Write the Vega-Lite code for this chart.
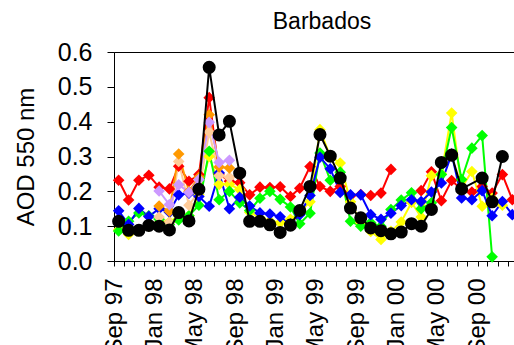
{
"$schema":"https://vega.github.io/schema/vega-lite/v6.json",
"autosize":{"type":"none"},
"padding":{"left":114,"top":52,"right":0,"bottom":84},
"width":400,"height":209,
"background":"white",
"config":{"font":"Liberation Sans","view":{"stroke":"black","strokeWidth":1},"axis":{"grid":false,"domainColor":"black","tickColor":"black","labelColor":"black","titleColor":"black","labelFont":"Liberation Sans","titleFont":"Liberation Sans"}},
"title":{"text":"Barbados","fontSize":23,"font":"Liberation Sans","fontWeight":"normal","color":"black","anchor":"middle","dx":8,"dy":32,"offset":20,"baseline":"alphabetic"},
"data":{"values":[
{"s":"red","g":1,"d":"1997-09-15","v":0.232},{"s":"red","g":1,"d":"1997-10-15","v":0.175},{"s":"red","g":1,"d":"1997-11-15","v":0.232},{"s":"red","g":1,"d":"1997-12-15","v":0.246},{"s":"red","g":1,"d":"1998-01-15","v":0.212},{"s":"red","g":1,"d":"1998-02-15","v":0.207},{"s":"red","g":1,"d":"1998-03-15","v":0.272},{"s":"red","g":1,"d":"1998-04-15","v":0.229},{"s":"red","g":1,"d":"1998-05-15","v":0.248},{"s":"red","g":1,"d":"1998-06-15","v":0.469},{"s":"red","g":1,"d":"1998-07-15","v":0.25},{"s":"red","g":1,"d":"1998-08-15","v":0.229},{"s":"red","g":1,"d":"1998-09-15","v":0.225},{"s":"red","g":1,"d":"1998-10-15","v":0.19},{"s":"red","g":1,"d":"1998-11-15","v":0.212},{"s":"red","g":1,"d":"1998-12-15","v":0.211},{"s":"red","g":1,"d":"1999-01-15","v":0.213},{"s":"red","g":1,"d":"1999-02-15","v":0.185},{"s":"red","g":1,"d":"1999-03-15","v":0.209},{"s":"red","g":1,"d":"1999-04-15","v":0.271},{"s":"red","g":1,"d":"1999-05-15","v":0.214},{"s":"red","g":1,"d":"1999-06-15","v":0.2},{"s":"red","g":1,"d":"1999-07-15","v":0.214},{"s":"red","g":1,"d":"1999-08-15","v":0.187},{"s":"red","g":1,"d":"1999-09-15","v":0.191},{"s":"red","g":1,"d":"1999-10-15","v":0.188},{"s":"red","g":1,"d":"1999-11-15","v":0.195},{"s":"red","g":1,"d":"1999-12-15","v":0.263},
{"s":"red","g":2,"d":"2000-03-15","v":0.202},{"s":"red","g":2,"d":"2000-04-15","v":0.256},{"s":"red","g":2,"d":"2000-05-15","v":0.173},{"s":"red","g":2,"d":"2000-06-15","v":0.231},{"s":"red","g":2,"d":"2000-07-15","v":0.205},{"s":"red","g":2,"d":"2000-08-15","v":0.198},{"s":"red","g":2,"d":"2000-09-15","v":0.214},{"s":"red","g":2,"d":"2000-10-15","v":0.195},{"s":"red","g":2,"d":"2000-11-15","v":0.248},{"s":"red","g":2,"d":"2000-12-15","v":0.176},
{"s":"yellow","d":"1997-09-15","v":0.09},{"s":"yellow","d":"1997-10-15","v":0.076},{"s":"yellow","d":"1997-11-15","v":0.088},{"s":"yellow","d":"1997-12-15","v":0.1},{"s":"yellow","d":"1998-01-15","v":0.11},{"s":"yellow","d":"1998-02-15","v":0.112},{"s":"yellow","d":"1998-03-15","v":0.13},{"s":"yellow","d":"1998-04-15","v":0.13},{"s":"yellow","d":"1998-05-15","v":0.19},{"s":"yellow","d":"1998-06-15","v":0.3},{"s":"yellow","d":"1998-07-15","v":0.22},{"s":"yellow","d":"1998-08-15","v":0.22},{"s":"yellow","d":"1998-09-15","v":0.205},{"s":"yellow","d":"1998-10-15","v":0.14},{"s":"yellow","d":"1998-11-15","v":0.124},{"s":"yellow","d":"1998-12-15","v":0.115},{"s":"yellow","d":"1999-01-15","v":0.11},{"s":"yellow","d":"1999-02-15","v":0.12},{"s":"yellow","d":"1999-03-15","v":0.14},{"s":"yellow","d":"1999-04-15","v":0.17},{"s":"yellow","d":"1999-05-15","v":0.377},{"s":"yellow","d":"1999-06-15","v":0.3},{"s":"yellow","d":"1999-07-15","v":0.281},{"s":"yellow","d":"1999-08-15","v":0.17},{"s":"yellow","d":"1999-09-15","v":0.11},{"s":"yellow","d":"1999-10-15","v":0.085},{"s":"yellow","d":"1999-11-15","v":0.062},{"s":"yellow","d":"1999-12-15","v":0.085},{"s":"yellow","d":"2000-01-15","v":0.112},{"s":"yellow","d":"2000-02-15","v":0.168},{"s":"yellow","d":"2000-03-15","v":0.126},{"s":"yellow","d":"2000-04-15","v":0.245},{"s":"yellow","d":"2000-05-15","v":0.25},{"s":"yellow","d":"2000-06-15","v":0.425},{"s":"yellow","d":"2000-07-15","v":0.21},{"s":"yellow","d":"2000-08-15","v":0.257},{"s":"yellow","d":"2000-09-15","v":0.157},{"s":"yellow","d":"2000-10-15","v":0.18},{"s":"yellow","d":"2000-11-15","v":0.16},
{"s":"green","d":"1997-09-15","v":0.086},{"s":"green","d":"1997-10-15","v":0.114},{"s":"green","d":"1997-11-15","v":0.138},{"s":"green","d":"1997-12-15","v":0.13},{"s":"green","d":"1998-01-15","v":0.12},{"s":"green","d":"1998-02-15","v":0.105},{"s":"green","d":"1998-03-15","v":0.118},{"s":"green","d":"1998-04-15","v":0.13},{"s":"green","d":"1998-05-15","v":0.16},{"s":"green","d":"1998-06-15","v":0.315},{"s":"green","d":"1998-07-15","v":0.176},{"s":"green","d":"1998-08-15","v":0.2},{"s":"green","d":"1998-09-15","v":0.167},{"s":"green","d":"1998-10-15","v":0.145},{"s":"green","d":"1998-11-15","v":0.18},{"s":"green","d":"1998-12-15","v":0.2},{"s":"green","d":"1999-01-15","v":0.177},{"s":"green","d":"1999-02-15","v":0.155},{"s":"green","d":"1999-03-15","v":0.107},{"s":"green","d":"1999-04-15","v":0.137},{"s":"green","d":"1999-05-15","v":0.31},{"s":"green","d":"1999-06-15","v":0.232},{"s":"green","d":"1999-07-15","v":0.255},{"s":"green","d":"1999-08-15","v":0.114},{"s":"green","d":"1999-09-15","v":0.1},{"s":"green","d":"1999-10-15","v":0.11},{"s":"green","d":"1999-11-15","v":0.1},{"s":"green","d":"1999-12-15","v":0.148},{"s":"green","d":"2000-01-15","v":0.175},{"s":"green","d":"2000-02-15","v":0.196},{"s":"green","d":"2000-03-15","v":0.15},{"s":"green","d":"2000-04-15","v":0.167},{"s":"green","d":"2000-05-15","v":0.248},{"s":"green","d":"2000-06-15","v":0.383},{"s":"green","d":"2000-07-15","v":0.234},{"s":"green","d":"2000-08-15","v":0.324},{"s":"green","d":"2000-09-15","v":0.36},{"s":"green","d":"2000-10-15","v":0.012},
{"s":"blue","d":"1997-09-15","v":0.144},{"s":"blue","d":"1997-10-15","v":0.105},{"s":"blue","d":"1997-11-15","v":0.151},{"s":"blue","d":"1997-12-15","v":0.128},{"s":"blue","d":"1998-01-15","v":0.15},{"s":"blue","d":"1998-02-15","v":0.14},{"s":"blue","d":"1998-03-15","v":0.19},{"s":"blue","d":"1998-04-15","v":0.195},{"s":"blue","d":"1998-05-15","v":0.185},{"s":"blue","d":"1998-06-15","v":0.157},{"s":"blue","d":"1998-07-15","v":0.253},{"s":"blue","d":"1998-08-15","v":0.15},{"s":"blue","d":"1998-09-15","v":0.183},{"s":"blue","d":"1998-10-15","v":0.158},{"s":"blue","d":"1998-11-15","v":0.138},{"s":"blue","d":"1998-12-15","v":0.135},{"s":"blue","d":"1999-01-15","v":0.127},{"s":"blue","d":"1999-02-15","v":0.106},{"s":"blue","d":"1999-03-15","v":0.133},{"s":"blue","d":"1999-04-15","v":0.188},{"s":"blue","d":"1999-05-15","v":0.298},{"s":"blue","d":"1999-06-15","v":0.265},{"s":"blue","d":"1999-07-15","v":0.197},{"s":"blue","d":"1999-08-15","v":0.19},{"s":"blue","d":"1999-09-15","v":0.19},{"s":"blue","d":"1999-10-15","v":0.133},{"s":"blue","d":"1999-11-15","v":0.12},{"s":"blue","d":"1999-12-15","v":0.137},{"s":"blue","d":"2000-01-15","v":0.159},{"s":"blue","d":"2000-02-15","v":0.176},{"s":"blue","d":"2000-03-15","v":0.171},{"s":"blue","d":"2000-04-15","v":0.198},{"s":"blue","d":"2000-05-15","v":0.224},{"s":"blue","d":"2000-06-15","v":0.307},{"s":"blue","d":"2000-07-15","v":0.181},{"s":"blue","d":"2000-08-15","v":0.176},{"s":"blue","d":"2000-09-15","v":0.202},{"s":"blue","d":"2000-10-15","v":0.13},{"s":"blue","d":"2000-11-15","v":0.171},{"s":"blue","d":"2000-12-15","v":0.133},
{"s":"peach","d":"1998-01-15","v":0.126},{"s":"peach","d":"1998-02-15","v":0.11},{"s":"peach","d":"1998-03-15","v":0.286},{"s":"peach","d":"1998-04-15","v":0.16},{"s":"peach","d":"1998-05-15","v":0.2},{"s":"peach","d":"1998-06-15","v":0.37},{"s":"peach","d":"1998-07-15","v":0.245},{"s":"peach","d":"1998-08-15","v":0.24},
{"s":"orange","d":"1998-01-15","v":0.158},{"s":"orange","d":"1998-02-15","v":0.143},{"s":"orange","d":"1998-03-15","v":0.307},{"s":"orange","d":"1998-04-15","v":0.2},{"s":"orange","d":"1998-05-15","v":0.24},{"s":"orange","d":"1998-06-15","v":0.42},{"s":"orange","d":"1998-07-15","v":0.27},{"s":"orange","d":"1998-08-15","v":0.267},
{"s":"lavender","d":"1998-01-15","v":0.201},{"s":"lavender","d":"1998-02-15","v":0.162},{"s":"lavender","d":"1998-03-15","v":0.219},{"s":"lavender","d":"1998-04-15","v":0.197},{"s":"lavender","d":"1998-05-15","v":0.234},{"s":"lavender","d":"1998-06-15","v":0.398},{"s":"lavender","d":"1998-07-15","v":0.283},{"s":"lavender","d":"1998-08-15","v":0.289},
{"s":"black","d":"1997-09-15","v":0.114},{"s":"black","d":"1997-10-15","v":0.088},{"s":"black","d":"1997-11-15","v":0.088},{"s":"black","d":"1997-12-15","v":0.102},{"s":"black","d":"1998-01-15","v":0.1},{"s":"black","d":"1998-02-15","v":0.089},{"s":"black","d":"1998-03-15","v":0.139},{"s":"black","d":"1998-04-15","v":0.115},{"s":"black","d":"1998-05-15","v":0.206},{"s":"black","d":"1998-06-15","v":0.556},{"s":"black","d":"1998-07-15","v":0.362},{"s":"black","d":"1998-08-15","v":0.401},{"s":"black","d":"1998-09-15","v":0.252},{"s":"black","d":"1998-10-15","v":0.114},{"s":"black","d":"1998-11-15","v":0.114},{"s":"black","d":"1998-12-15","v":0.104},{"s":"black","d":"1999-01-15","v":0.082},{"s":"black","d":"1999-02-15","v":0.103},{"s":"black","d":"1999-03-15","v":0.145},{"s":"black","d":"1999-04-15","v":0.214},{"s":"black","d":"1999-05-15","v":0.363},{"s":"black","d":"1999-06-15","v":0.301},{"s":"black","d":"1999-07-15","v":0.238},{"s":"black","d":"1999-08-15","v":0.152},{"s":"black","d":"1999-09-15","v":0.124},{"s":"black","d":"1999-10-15","v":0.095},{"s":"black","d":"1999-11-15","v":0.087},{"s":"black","d":"1999-12-15","v":0.078},{"s":"black","d":"2000-01-15","v":0.083},{"s":"black","d":"2000-02-15","v":0.107},{"s":"black","d":"2000-03-15","v":0.1},{"s":"black","d":"2000-04-15","v":0.148},{"s":"black","d":"2000-05-15","v":0.283},{"s":"black","d":"2000-06-15","v":0.304},{"s":"black","d":"2000-07-15","v":0.207},{"s":"black","d":"2000-09-15","v":0.238},{"s":"black","d":"2000-10-15","v":0.17},{"s":"black","d":"2000-11-15","v":0.3}
]},
"encoding":{
"x":{"field":"d","type":"temporal","scale":{"type":"utc","domain":[{"year":1997,"month":9,"date":1,"utc":true},{"year":2000,"month":12,"date":20,"utc":true}],"nice":false},
"axis":{"title":null,"tickCount":{"interval":"month","step":1},"labelExpr":"utcmonth(datum.value) % 4 == 0 ? utcFormat(datum.value, '%b %y') : ''","labelAngle":270,"labelFontSize":24,"tickSize":5,"labelPadding":12,"labelOverlap":false,"labelFlush":false,"labelBound":false,"domainWidth":1}},
"y":{"field":"v","type":"quantitative","scale":{"domain":[0,0.6],"nice":false},
"axis":{"title":"AOD 550 nm","values":[0,0.1,0.2,0.3,0.4,0.5,0.6],"format":".1f","tickSize":7,"labelPadding":15,"labelFontSize":25,"titleFontSize":24,"titleFontWeight":"normal","titleX":-88,"titleY":104.5,"titleAngle":270,"titleAlign":"center","titleBaseline":"middle","domainWidth":1}},
"color":{"field":"s","type":"nominal","legend":null,"scale":{"domain":["red","yellow","green","blue","peach","orange","lavender","black"],"range":["#FF0000","#FFFF00","#00FF00","#0000FF","#FFCC99","#FF9900","#CC99FF","#000000"]}}
},
"layer":[
{"transform":[{"filter":"datum.s != 'black'"}],"mark":{"type":"line","strokeWidth":2},"encoding":{"detail":{"field":"g"}}},
{"transform":[{"filter":"datum.s != 'black'"}],"mark":{"type":"point","shape":"diamond","filled":true,"size":135,"opacity":1}},
{"transform":[{"filter":"datum.s == 'black'"}],"mark":{"type":"line","strokeWidth":2},"encoding":{}},
{"transform":[{"filter":"datum.s == 'black'"}],"mark":{"type":"point","shape":"circle","filled":true,"size":170,"opacity":1}}
]
}
